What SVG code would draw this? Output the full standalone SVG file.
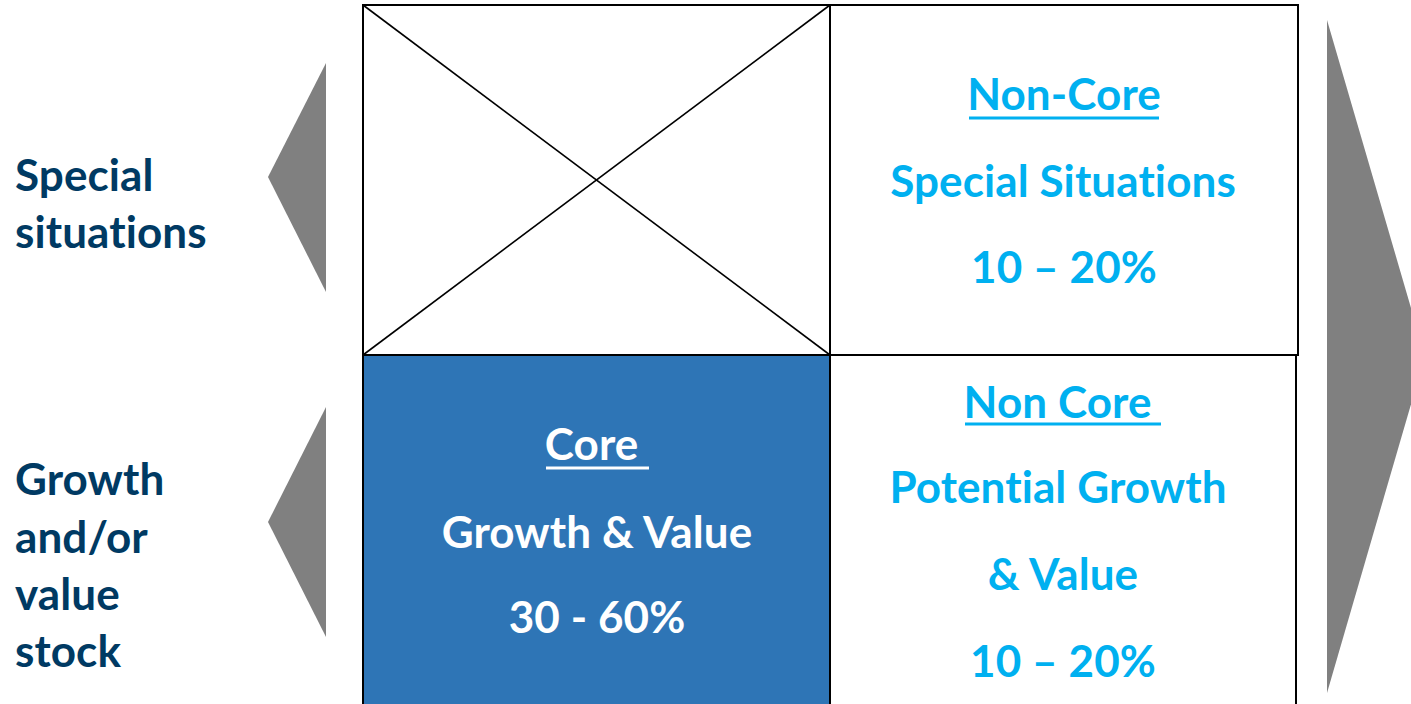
<svg xmlns="http://www.w3.org/2000/svg" width="1411" height="704" viewBox="0 0 1411 704">
  <style>
    .lbl { font-family: Lato, "Liberation Sans", sans-serif; font-weight: 700; font-size: 44px; letter-spacing: 0.1px; font-variant-ligatures: none; }
    .side { fill: #003A63; }
    .cyan { fill: #00B0F0; text-anchor: middle; }
    .white { fill: #FFFFFF; text-anchor: middle; }
    .cell { stroke: #000; stroke-width: 2; }
    .diag { stroke: #000; stroke-width: 1.6; }
    .arrow { fill: #808080; }
  </style>
  <rect width="1411" height="704" fill="#FFFFFF"/>

  <!-- Side labels -->
  <g id="label-special">
    <text class="lbl side" x="15" y="191">Special</text>
    <text class="lbl side" x="15" y="248">situations</text>
  </g>
  <g id="label-growth">
    <text class="lbl side" x="15" y="495">Growth</text>
    <text class="lbl side" x="15" y="553">and/or</text>
    <text class="lbl side" x="15" y="610">value</text>
    <text class="lbl side" x="15" y="667">stock</text>
  </g>

  <!-- Grey pointers -->
  <g id="connectors">
    <polygon id="pointer-special" class="arrow" points="326,63 268,177 326,292"/>
    <polygon id="pointer-growth" class="arrow" points="326,407 268,522 326,637"/>
    <polygon id="pointer-right" class="arrow" points="1327,20 1425,356 1327,693"/>
  </g>

  <!-- Top-left: empty cell crossed out -->
  <g id="cell-empty">
    <rect class="cell" x="363" y="5" width="467" height="350" fill="#FFFFFF"/>
    <line class="diag" x1="363" y1="5" x2="830" y2="355"/>
    <line class="diag" x1="830" y1="5" x2="363" y2="355"/>
  </g>

  <!-- Top-right: non-core special situations -->
  <g id="cell-noncore-special">
    <rect class="cell" x="830" y="5" width="468" height="350" fill="#FFFFFF"/>
    <text class="lbl cyan" x="1064" y="110">Non-Core</text>
    <line x1="969" y1="118" x2="1159" y2="118" stroke="#00B0F0" stroke-width="3"/>
    <text class="lbl cyan" x="1063" y="197">Special Situations</text>
    <text class="lbl cyan" x="1064" y="283">10 – 20%</text>
  </g>

  <!-- Bottom-left: core -->
  <g id="cell-core">
    <rect class="cell" x="363" y="355" width="467" height="352" fill="#2E75B6"/>
    <text class="lbl white" x="597" y="460" xml:space="preserve">Core </text>
    <line x1="546" y1="468" x2="649" y2="468" stroke="#FFFFFF" stroke-width="3"/>
    <text class="lbl white" x="597" y="548">Growth &amp; Value</text>
    <text class="lbl white" x="597" y="633">30 - 60%</text>
  </g>

  <!-- Bottom-right: non-core potential growth -->
  <g id="cell-noncore-growth">
    <rect class="cell" x="830" y="355" width="466" height="352" fill="#FFFFFF"/>
    <text class="lbl cyan" x="1063" y="418" xml:space="preserve">Non Core </text>
    <line x1="965" y1="424" x2="1161" y2="424" stroke="#00B0F0" stroke-width="3"/>
    <text class="lbl cyan" x="1058" y="503">Potential Growth</text>
    <text class="lbl cyan" x="1063" y="590">&amp; Value</text>
    <text class="lbl cyan" x="1063" y="677">10 – 20%</text>
  </g>
</svg>
